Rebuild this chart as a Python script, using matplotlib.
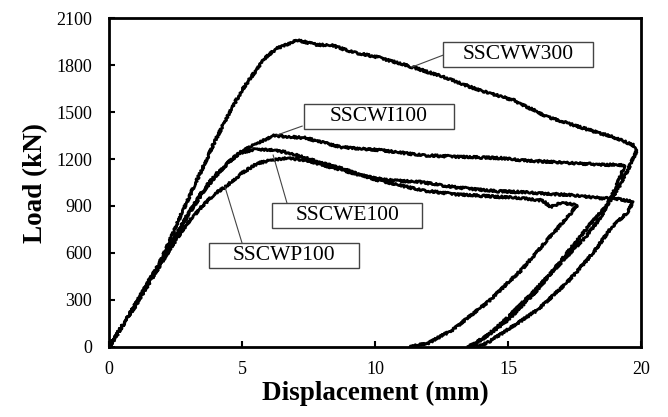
import matplotlib
matplotlib.use("Agg")
import matplotlib.pyplot as plt
from matplotlib.patches import Rectangle

plt.rcParams['font.family'] = ['Liberation Serif', 'DejaVu Serif']

# load-displacement curves (mm, kN)
ww300_x = [0, 1, 2, 2.8, 3.4, 4.0, 4.6, 5.0, 5.5, 5.9, 6.3, 7.07, 7.8, 8.4, 9.1, 10.1,
           11.4, 12.7, 13.9, 15.2, 16.5, 17.7, 18.95, 19.7, 19.85,
           19.5, 19.1, 18.7, 18.0, 17.1, 16.1, 15.0, 14.2, 13.6]
ww300_y = [0, 275, 570, 880, 1100, 1320, 1520, 1640, 1760, 1850, 1905, 1959, 1930, 1925, 1885, 1850,
           1787, 1717, 1640, 1576, 1468, 1404, 1340, 1289, 1257,
           1130, 1000, 900, 766, 574, 364, 172, 70, 0]

wi100_x = [0, 1, 2, 2.5, 3.0, 3.5, 4.0, 4.5, 5.0, 5.6, 6.2, 7.4, 8.7, 10.2, 11.7, 13.0,
           14.7, 15.5, 17.3, 18.5, 19.4,
           19.0, 18.5, 17.9, 17.0, 16.0, 15.0, 14.2, 13.5]
wi100_y = [0, 270, 560, 700, 850, 980, 1090, 1180, 1250, 1302, 1350, 1334, 1276, 1257, 1225, 1215,
           1206, 1193, 1174, 1165, 1161,
           1000, 830, 700, 540, 360, 190, 70, 0]

we100_x = [0, 1, 2, 2.5, 3, 3.5, 4.0, 4.5, 4.9, 5.5, 6.2, 6.8, 8.0, 8.7, 10, 11.7, 13,
           14.5, 15.5, 16.3, 16.6, 17.0, 17.6,
           17.2, 16.7, 15.5, 14.2, 12.9, 12.0, 11.3]
we100_y = [0, 270, 560, 710, 860, 990, 1100, 1180, 1238, 1262, 1257, 1238, 1174, 1142, 1070, 1002, 975,
           960, 951, 935, 893, 920, 906,
           820, 727, 491, 281, 108, 25, 0]

wp100_x = [0, 1, 2, 2.5, 3.0, 3.5, 4.0, 4.36, 5.0, 5.6, 6.2, 6.7, 7.4, 8.5, 9.5, 10.5, 11.7,
           13, 14.5, 15.5, 17.3, 18.5, 19.2, 19.7,
           19.5, 18.9, 18.2, 17.2, 16.1, 14.8, 14.2, 13.8]
wp100_y = [0, 265, 545, 680, 800, 900, 980, 1021, 1110, 1174, 1195, 1206, 1193, 1140, 1095, 1065, 1053,
           1020, 995, 989, 970, 950, 945, 925,
           860, 766, 600, 408, 236, 89, 25, 0]

labels = ["SSCWW300", "SSCWI100", "SSCWE100", "SSCWP100"]
# label box (x0, y0, x1, y1) and leader line (box point, curve point)
boxes = [(12.56, 1787, 18.2, 1946), (7.33, 1391, 12.97, 1551),
         (6.13, 760, 11.77, 919), (3.76, 505, 9.4, 664)]
leaders = [((12.56, 1863), (11.39, 1787)), ((7.26, 1410), (6.32, 1353)),
           ((6.69, 919), (6.17, 1225)), ((5.0, 664), (4.36, 1021))]

fig = plt.figure(figsize=(6.68, 4.17), dpi=100)
ax = fig.add_axes([0.1632, 0.1679, 0.7964, 0.7889])

for xs, ys in [(ww300_x, ww300_y), (wi100_x, wi100_y), (we100_x, we100_y), (wp100_x, wp100_y)]:
    ln, = ax.plot(xs, ys, color='black', lw=2.0, solid_joinstyle='round')
    ln.set_sketch_params(1.1, 2, 2)

for name, (x0, y0, x1, y1), (p, q) in zip(labels, boxes, leaders):
    ax.plot([p[0], q[0]], [p[1], q[1]], color='#444444', lw=0.8)
    ax.add_patch(Rectangle((x0, y0), x1 - x0, y1 - y0, facecolor='white',
                           edgecolor='#444444', lw=1.0, zorder=3))
    ax.text((x0 + x1) / 2, (y0 + y1) / 2, name, ha='center', va='center',
            fontsize=15.5, zorder=4)

ax.set_xlim(0, 20)
ax.set_ylim(0, 2100)
ax.set_xticks([0, 5, 10, 15, 20])
ax.set_yticks(range(0, 2101, 300))
ax.tick_params(direction='in', length=4, width=1.5, labelsize=13)
ax.tick_params(axis='x', pad=10)
ax.tick_params(axis='y', pad=12)
for s in ax.spines.values():
    s.set_linewidth(2.0)

ax.set_xlabel("Displacement (mm)", fontsize=19.5, fontweight='bold', labelpad=2)
ax.set_ylabel("Load (kN)", fontsize=19.5, fontweight='bold', labelpad=6)

fig.savefig("out.png", dpi=100)
